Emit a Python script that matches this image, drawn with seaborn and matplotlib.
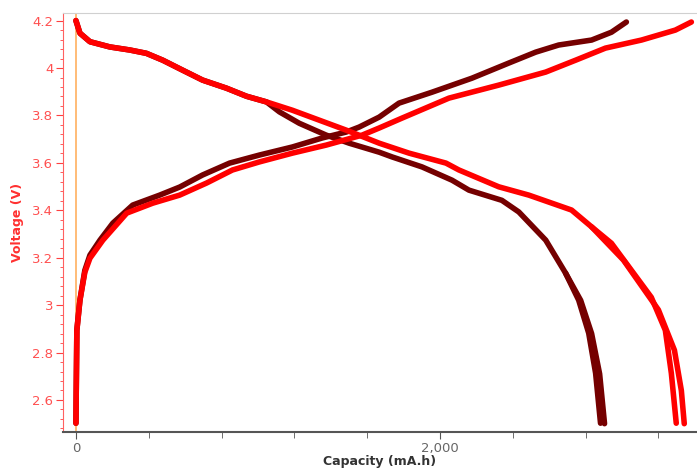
import pandas as pd
import seaborn as sns
import matplotlib.pyplot as plt
from matplotlib.ticker import MultipleLocator, FuncFormatter

# Capacity (mA.h) / Voltage (V)
dis_a_cap = [0, 22, 77, 186, 296, 387, 477, 586, 696, 827, 937, 1047, 1118, 1227, 1375, 1501, 1666, 1737, 1901, 2066, 2159, 2340, 2433, 2581, 2690, 2762, 2817, 2855, 2882]
dis_a_v = [4.2, 4.147, 4.111, 4.089, 4.076, 4.062, 4.033, 3.991, 3.949, 3.915, 3.881, 3.857, 3.815, 3.767, 3.717, 3.683, 3.645, 3.625, 3.583, 3.527, 3.485, 3.442, 3.393, 3.274, 3.135, 3.021, 2.882, 2.713, 2.502]
dis_b_cap = [0, 22, 77, 186, 296, 387, 477, 586, 696, 827, 937, 1047, 1189, 1337, 1485, 1666, 1830, 2033, 2104, 2323, 2488, 2723, 2833, 2942, 3161, 3238, 3271, 3298]
dis_b_v = [4.2, 4.147, 4.111, 4.089, 4.076, 4.062, 4.033, 3.991, 3.949, 3.915, 3.881, 3.857, 3.822, 3.780, 3.738, 3.683, 3.641, 3.599, 3.570, 3.499, 3.464, 3.401, 3.330, 3.261, 3.033, 2.894, 2.713, 2.502]
# second cycle tails (run slightly longer)
dis_a2_cap = [2690, 2773, 2833, 2877, 2904]
dis_a2_v = [3.135, 3.02, 2.88, 2.71, 2.50]
dis_b2_cap = [2833, 3008, 3200, 3288, 3326, 3342]
dis_b2_v = [3.330, 3.19, 2.98, 2.81, 2.64, 2.50]
chg_a_cap = [0, 5, 22, 49, 77, 132, 203, 312, 460, 570, 696, 844, 1008, 1189, 1353, 1485, 1556, 1666, 1775, 1956, 2175, 2378, 2526, 2652, 2833, 2942, 3024]
chg_a_v = [2.502, 2.894, 3.021, 3.147, 3.211, 3.274, 3.346, 3.422, 3.464, 3.498, 3.549, 3.599, 3.633, 3.667, 3.705, 3.730, 3.751, 3.793, 3.852, 3.898, 3.957, 4.021, 4.067, 4.097, 4.118, 4.151, 4.194]
chg_b_cap = [0, 5, 22, 49, 77, 148, 279, 422, 570, 718, 860, 1008, 1189, 1375, 1572, 1666, 1792, 2049, 2323, 2581, 2745, 2909, 3107, 3293, 3381]
chg_b_v = [2.502, 2.894, 3.021, 3.139, 3.198, 3.274, 3.388, 3.430, 3.464, 3.515, 3.570, 3.604, 3.641, 3.675, 3.717, 3.747, 3.789, 3.873, 3.928, 3.983, 4.033, 4.084, 4.118, 4.160, 4.194]

dark = '#750000'
red = '#ff0000'
curves = [
    (dis_a_cap, dis_a_v, dark),
    (dis_a2_cap, dis_a2_v, dark),
    (chg_a_cap, chg_a_v, dark),
    (dis_b_cap, dis_b_v, red),
    (dis_b2_cap, dis_b2_v, red),
    (chg_b_cap, chg_b_v, red),
]

sns.set_style('white')
plt.rcParams['font.family'] = ['DejaVu Sans']

fig = plt.figure(figsize=(6.97, 4.70), dpi=100)
ax = fig.add_axes([0.0904, 0.0809, 0.9096, 0.8914])

ax.axvline(0, color='#ffb060', lw=1.2, zorder=1)
for cap, v, col in curves:
    df = pd.DataFrame({'cap': cap, 'v': v})
    sns.lineplot(data=df, x='cap', y='v', sort=False, color=col, lw=4,
                 solid_capstyle='round', solid_joinstyle='round', ax=ax, zorder=3)

ax.set_xlim(-71, 3412)
ax.set_ylim(2.465, 4.232)
ax.xaxis.set_major_locator(MultipleLocator(2000))
ax.xaxis.set_minor_locator(MultipleLocator(400))
ax.xaxis.set_major_formatter(FuncFormatter(lambda x, p: f'{int(x):,}'))
ax.yaxis.set_major_locator(MultipleLocator(0.2))
ax.yaxis.set_minor_locator(MultipleLocator(0.04))
ax.yaxis.set_major_formatter(FuncFormatter(lambda y, p: f'{y:g}'))

ax.tick_params(axis='x', which='both', direction='out', bottom=True, colors='#555555',
               labelsize=9.5, labelcolor='#666666', pad=2)
ax.tick_params(axis='x', which='major', length=5)
ax.tick_params(axis='x', which='minor', length=4)
ax.tick_params(axis='y', which='both', direction='out', left=True, colors='#ff4040',
               labelsize=9.5, labelcolor='#ff5050', pad=2)
ax.tick_params(axis='y', which='major', length=5)
ax.tick_params(axis='y', which='minor', length=2)

ax.set_xlabel('Capacity (mA.h)', fontsize=9, fontweight='bold', color='#333333', labelpad=0)
ax.set_ylabel('Voltage (V)', fontsize=9, fontweight='bold', color='#ff3030', labelpad=6)

ax.spines['left'].set_color('#ff6060')
ax.spines['bottom'].set_color('#555555')
ax.spines['bottom'].set_linewidth(1.5)
ax.spines['top'].set_color('#d0d0d0')
ax.spines['right'].set_visible(False)

fig.savefig('out.png', dpi=100)
